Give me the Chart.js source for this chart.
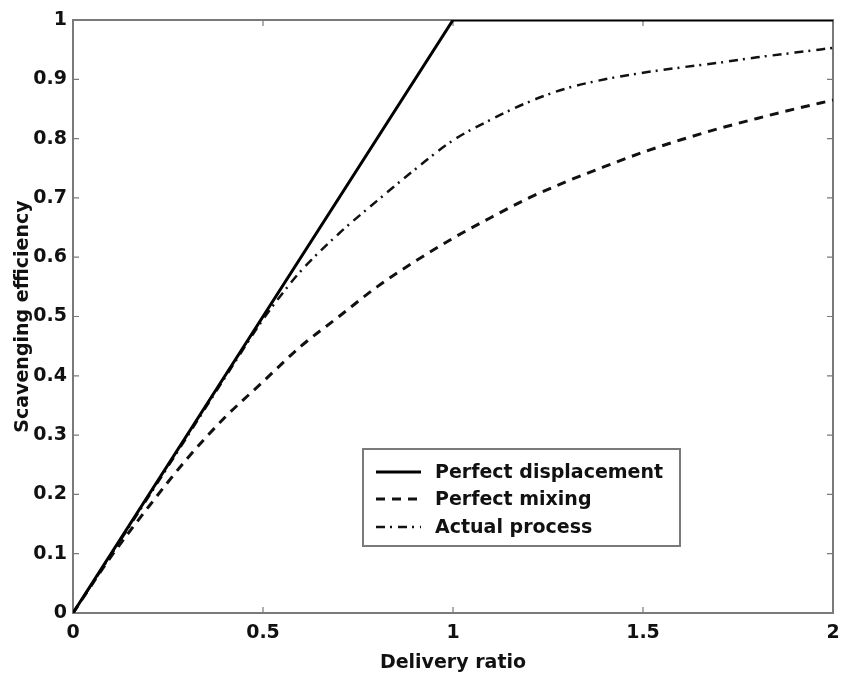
<!DOCTYPE html>
<html>
<head>
<meta charset="utf-8">
<script src="https://cdn.jsdelivr.net/npm/chart.js@4.4.1/dist/chart.umd.min.js"></script>
<style>
  html, body { margin: 0; padding: 0; background: #fff; }
  #wrap { width: 842px; height: 674px; position: relative; }
</style>
</head>
<body>
<div id="wrap"><canvas id="c" width="842" height="674"></canvas></div>
<script>
// ---- data ----
const seriesNames = ['Perfect displacement', 'Perfect mixing', 'Actual process'];

const displacementX = [0, 1, 2];
const displacementY = [0, 1, 1];

const mixingX = [0, 0.1, 0.2, 0.3, 0.4, 0.5, 0.6, 0.7, 0.8, 0.9, 1.0, 1.1, 1.2, 1.3, 1.4, 1.5, 1.6, 1.7, 1.8, 1.9, 2.0];
const mixingY = [0, 0.095, 0.18, 0.26, 0.33, 0.39, 0.45, 0.50, 0.55, 0.593, 0.632, 0.667, 0.70, 0.728, 0.753, 0.777, 0.798, 0.817, 0.834, 0.85, 0.865];

const actualX = [0, 0.1, 0.2, 0.3, 0.4, 0.5, 0.55, 0.6, 0.7, 0.8, 0.9, 1.0, 1.1, 1.2, 1.3, 1.4, 1.5, 1.6, 1.7, 1.8, 1.9, 2.0];
const actualY = [0, 0.098, 0.197, 0.297, 0.397, 0.495, 0.538, 0.577, 0.64, 0.695, 0.748, 0.797, 0.832, 0.862, 0.885, 0.90, 0.911, 0.92, 0.928, 0.937, 0.945, 0.953];

const xTickValues = [0, 0.5, 1, 1.5, 2];
const xTickLabels = ['0', '0.5', '1', '1.5', '2'];
const yTickValues = [0, 0.1, 0.2, 0.3, 0.4, 0.5, 0.6, 0.7, 0.8, 0.9, 1];
const yTickLabels = ['0', '0.1', '0.2', '0.3', '0.4', '0.5', '0.6', '0.7', '0.8', '0.9', '1'];

const xTitle = 'Delivery ratio';
const yTitle = 'Scavenging efficiency';

const toPts = (xs, ys) => xs.map((x, i) => ({ x: x, y: ys[i] }));

const FONT = 'DejaVu Sans';
const FRAME = '#7a7a7a';

// frame with inward ticks (MATLAB style) + legend box
const framePlugin = {
  id: 'frame',
  beforeDatasetsDraw(chart) {
    const { ctx, chartArea: a, scales } = chart;
    ctx.save();
    ctx.strokeStyle = FRAME;
    ctx.lineWidth = 2;
    ctx.strokeRect(a.left, a.top, a.right - a.left, a.bottom - a.top);
    ctx.lineWidth = 1.2;
    const tl = 6;
    ctx.beginPath();
    xTickValues.forEach(v => {
      const px = scales.x.getPixelForValue(v);
      ctx.moveTo(px, a.bottom); ctx.lineTo(px, a.bottom - tl);
      ctx.moveTo(px, a.top); ctx.lineTo(px, a.top + tl);
    });
    yTickValues.forEach(v => {
      const py = scales.y.getPixelForValue(v);
      ctx.moveTo(a.left, py); ctx.lineTo(a.left + tl, py);
      ctx.moveTo(a.right, py); ctx.lineTo(a.right - tl, py);
    });
    ctx.stroke();
    ctx.restore();
  },
  afterDraw(chart) {
    const { ctx } = chart;
    const bx = 363, by = 449, bw = 317, bh = 97;
    ctx.save();
    ctx.fillStyle = '#fff';
    ctx.fillRect(bx, by, bw, bh);
    ctx.strokeStyle = FRAME;
    ctx.lineWidth = 2;
    ctx.strokeRect(bx, by, bw, bh);
    const rows = [472, 499, 527];
    chart.data.datasets.forEach((ds, i) => {
      ctx.beginPath();
      ctx.setLineDash(ds.borderDash || []);
      ctx.strokeStyle = ds.borderColor;
      ctx.lineWidth = ds.borderWidth;
      ctx.moveTo(376, rows[i]);
      ctx.lineTo(421, rows[i]);
      ctx.stroke();
      ctx.setLineDash([]);
      ctx.fillStyle = '#111';
      ctx.font = 'bold 19px "' + FONT + '"';
      ctx.textBaseline = 'middle';
      ctx.textAlign = 'left';
      ctx.fillText(ds.label, 435, rows[i] + 1);
    });
    ctx.restore();
  }
};

new Chart(document.getElementById('c'), {
  type: 'line',
  data: {
    datasets: [
      { label: seriesNames[0], data: toPts(displacementX, displacementY), borderColor: '#000', borderWidth: 3, pointRadius: 0, tension: 0 },
      { label: seriesNames[1], data: toPts(mixingX, mixingY), borderColor: '#111', borderWidth: 3, borderDash: [9, 7], pointRadius: 0, cubicInterpolationMode: 'monotone' },
      { label: seriesNames[2], data: toPts(actualX, actualY), borderColor: '#111', borderWidth: 2.5, borderDash: [9, 5, 2, 6], pointRadius: 0, cubicInterpolationMode: 'monotone' }
    ]
  },
  options: {
    responsive: false,
    animation: false,
    devicePixelRatio: 1,
    layout: { padding: { top: 20, right: 9, left: 0, bottom: 0 } },
    plugins: { legend: { display: false }, tooltip: { enabled: false } },
    scales: {
      x: {
        type: 'linear', min: 0, max: 2,
        afterBuildTicks: s => { s.ticks = xTickValues.map(v => ({ value: v })); },
        afterFit: s => { s.height = 61; s.paddingLeft = 0; s.paddingRight = 0; },
        grid: { display: false, drawTicks: false },
        border: { display: false },
        ticks: {
          padding: 9, color: '#111', maxRotation: 0,
          font: { family: FONT, size: 19, weight: 'bold' },
          callback: (v) => xTickLabels[xTickValues.indexOf(v)]
        },
        title: {
          display: true, text: xTitle, color: '#111',
          font: { family: FONT, size: 19, weight: 'bold' },
          padding: { top: 0, bottom: 0 }
        }
      },
      y: {
        type: 'linear', min: 0, max: 1,
        afterBuildTicks: s => { s.ticks = yTickValues.map(v => ({ value: v })); },
        afterFit: s => { s.width = 73; s.paddingTop = 0; s.paddingBottom = 0; },
        grid: { display: false, drawTicks: false },
        border: { display: false },
        ticks: {
          padding: 6, color: '#111',
          font: { family: FONT, size: 19, weight: 'bold' },
          callback: (v) => yTickLabels[yTickValues.indexOf(v)]
        },
        title: {
          display: true, text: yTitle, color: '#111',
          font: { family: FONT, size: 19, weight: 'bold' },
          padding: { top: 12, bottom: 0 }
        }
      }
    }
  },
  plugins: [framePlugin]
});
</script>
</body>
</html>
